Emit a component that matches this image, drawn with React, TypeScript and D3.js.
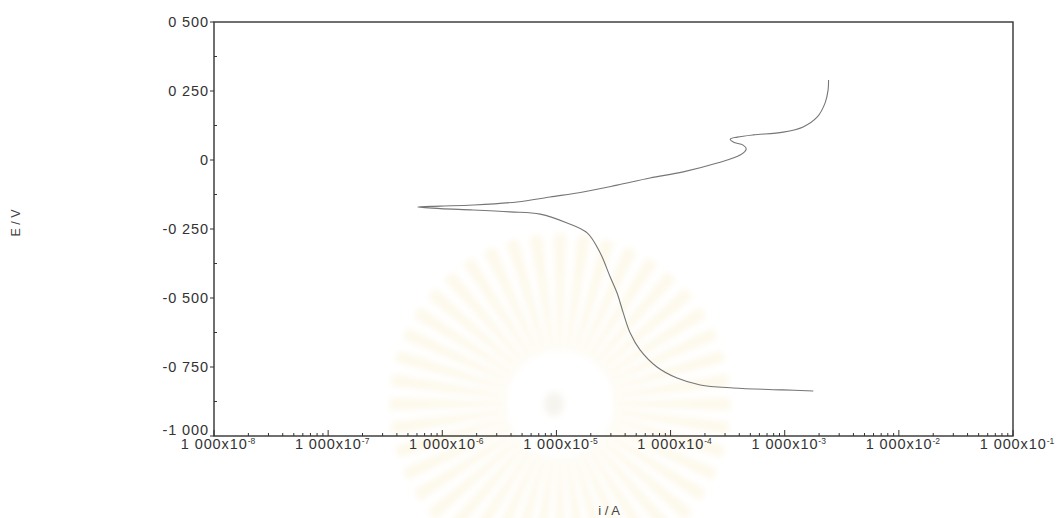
import React, { useEffect, useRef } from "react";
import * as d3 from "d3";

const width = 1062;
const height = 518;
const margin = { top: 22, right: 49, bottom: 82, left: 214 };

// polarisation curve, cathodic end -> corrosion tip -> anodic end
const current = [
  1.78e-3, 9.7e-4, 3.54e-4, 1.82e-4, 1.14e-4, 7.6e-5, 5.4e-5, 4.43e-5, 3.85e-5, 3.4e-5,
  2.96e-5, 2.42e-5, 1.86e-5, 1.24e-5, 7.2e-6, 3.93e-6, 1.86e-6, 9.6e-7, 6.1e-7,
  9.6e-7, 1.86e-6, 4.53e-6, 8.8e-6, 1.71e-5, 3.4e-5, 6.6e-5, 1.29e-4, 2.56e-4, 4.07e-4,
  4.6e-4, 4.32e-4, 3.54e-4, 3.33e-4, 3.84e-4, 5.3e-4, 9.7e-4, 1.45e-3, 1.93e-3, 2.26e-3,
  2.4e-3, 2.42e-3,
];
const potential = [
  -0.837, -0.833, -0.826, -0.815, -0.79, -0.75, -0.688, -0.627, -0.554, -0.482,
  -0.424, -0.337, -0.264, -0.228, -0.196, -0.188, -0.181, -0.176, -0.17,
  -0.167, -0.163, -0.152, -0.134, -0.116, -0.091, -0.065, -0.043, -0.011, 0.018,
  0.04, 0.054, 0.065, 0.076, 0.083, 0.091, 0.101, 0.12, 0.156, 0.207,
  0.254, 0.29,
];

const xTicks = [1e-8, 1e-7, 1e-6, 1e-5, 1e-4, 1e-3, 1e-2, 1e-1];
const xExp = ["-8", "-7", "-6", "-5", "-4", "-3", "-2", "-1"];
const yTicks = [0.5, 0.25, 0, -0.25, -0.5, -0.75, -1];
const yLabels = ["0 500", "0 250", "0", "-0 250", "-0 500", "-0 750", "-1 000"];

const font = "Liberation Sans, Arial, sans-serif";

const App = () => {
  const ref = useRef<SVGSVGElement>(null);

  useEffect(() => {
    const svg = d3.select(ref.current);
    svg.selectAll("*").remove();

    const x = d3.scaleLog().domain([1e-8, 1e-1]).range([margin.left, width - margin.right]);
    const y = d3.scaleLinear().domain([-1, 0.5]).range([height - margin.bottom, margin.top]);

    // faint watermark behind the plot
    const defs = svg.append("defs");
    defs.append("filter").attr("id", "wmblur")
      .append("feGaussianBlur").attr("stdDeviation", 3);
    const wm = svg.append("g").attr("transform", "translate(560,404)").attr("filter", "url(#wmblur)");
    const rays = d3.range(44);
    const arc = d3.arc<number>()
      .innerRadius(54)
      .outerRadius(170)
      .startAngle((d) => (d / 44) * 2 * Math.PI - 0.035)
      .endAngle((d) => (d / 44) * 2 * Math.PI + 0.035);
    wm.selectAll("path").data(rays).join("path")
      .attr("d", (d) => arc(d) as string)
      .attr("fill", "#fcf4dc")
      .attr("opacity", 0.6);
    wm.append("ellipse").attr("cx", -6).attr("cy", 0).attr("rx", 10).attr("ry", 12)
      .attr("fill", "#f6f4ee");

    const axisColor = "#333";

    // frame
    svg.append("rect")
      .attr("x", margin.left).attr("y", margin.top)
      .attr("width", width - margin.right - margin.left)
      .attr("height", height - margin.bottom - margin.top)
      .attr("fill", "none").attr("stroke", axisColor).attr("stroke-width", 1.4);

    // x axis ticks: decades and minors pointing inward
    const minors: number[] = [];
    for (let e = -8; e < -1; e++) for (let m = 2; m <= 9; m++) minors.push(m * Math.pow(10, e));
    const y0 = height - margin.bottom;
    svg.append("g").selectAll("line").data(minors).join("line")
      .attr("x1", (d) => x(d)).attr("x2", (d) => x(d))
      .attr("y1", y0).attr("y2", y0 - 3)
      .attr("stroke", axisColor);
    svg.append("g").selectAll("line").data(xTicks).join("line")
      .attr("x1", (d) => x(d)).attr("x2", (d) => x(d))
      .attr("y1", y0).attr("y2", y0 - 6)
      .attr("stroke", axisColor);

    const xl = svg.append("g").selectAll("text").data(xTicks).join("text")
      .attr("x", (d) => x(d) + 4).attr("y", y0 + 13)
      .attr("text-anchor", "middle")
      .attr("font-family", font)
      .attr("font-size", 14.5).attr("letter-spacing", 0.9).attr("fill", axisColor);
    xl.append("tspan").text("1 000x10");
    xl.append("tspan").attr("dy", -5).attr("font-size", 8.5).attr("letter-spacing", 0).text((d, i) => xExp[i]);

    // y axis ticks
    const yMinor = [0.375, 0.125, -0.125, -0.375, -0.625, -0.875];
    svg.append("g").selectAll("line").data(yMinor).join("line")
      .attr("x1", margin.left).attr("x2", margin.left + 3)
      .attr("y1", (d) => y(d)).attr("y2", (d) => y(d))
      .attr("stroke", axisColor);
    svg.append("g").selectAll("line").data(yTicks).join("line")
      .attr("x1", margin.left - 4).attr("x2", margin.left)
      .attr("y1", (d) => y(d)).attr("y2", (d) => y(d))
      .attr("stroke", axisColor);
    svg.append("g").selectAll("text").data(yTicks).join("text")
      .attr("x", margin.left - 5)
      .attr("y", (d) => (d === -1 ? y(d) - 1 : y(d) + 5))
      .attr("text-anchor", "end")
      .attr("font-family", font)
      .attr("font-size", 14.5).attr("letter-spacing", 0.9).attr("fill", axisColor)
      .text((d, i) => yLabels[i]);

    // axis titles
    svg.append("text")
      .attr("transform", "translate(20,223) rotate(-90)")
      .attr("text-anchor", "middle")
      .attr("font-family", font)
      .attr("font-size", 12.5).attr("fill", "#444")
      .text("E / V");
    svg.append("text")
      .attr("x", 609).attr("y", 515)
      .attr("text-anchor", "middle")
      .attr("font-family", font)
      .attr("font-size", 13).attr("fill", "#444")
      .text("i / A");

    // curve
    const pts = current.map((c, i) => [c, potential[i]] as [number, number]);
    const line = d3.line<[number, number]>()
      .x((d) => x(d[0]))
      .y((d) => y(d[1]))
      .curve(d3.curveCatmullRom.alpha(0.5));
    svg.append("path")
      .datum(pts)
      .attr("d", line)
      .attr("fill", "none")
      .attr("stroke", "#767676")
      .attr("stroke-width", 1.1);
  }, []);

  return (
    <svg
      ref={ref}
      width={width}
      height={height}
      style={{ display: "block", position: "absolute", left: 0, top: 0, background: "#fff" }}
    />
  );
};

export default App;
